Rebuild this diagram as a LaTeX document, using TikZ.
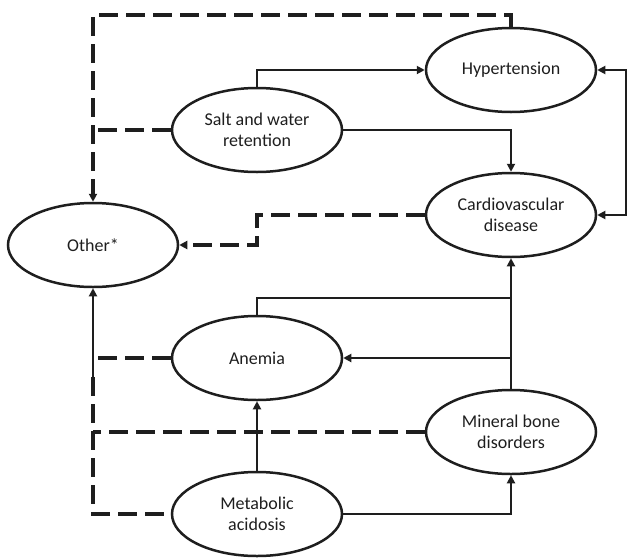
\documentclass[tikz,border=0pt]{standalone}
\usepackage{fontspec}
\setmainfont{Carlito}
\usetikzlibrary{arrows.meta,shapes.geometric}
\definecolor{ink}{HTML}{1E1E1E}
\tikzset{
  box/.style={ellipse,draw=ink,line width=2.5pt,minimum width=170pt,minimum height=84pt,inner sep=0pt,align=center,text=ink,font=\fontsize{18}{21.5}\selectfont},
  solidcon/.style={draw=ink,line width=1.9pt},
  dashcon/.style={draw=ink,line width=3.4pt,dash pattern=on 19pt off 8pt},
  tip/.style={-{Triangle[length=8pt,width=8pt]}},
  tips/.style={{Triangle[length=8pt,width=8pt]}-{Triangle[length=8pt,width=8pt]}}
}
\begin{document}
\begin{tikzpicture}[x=1pt,y=-1pt]
\useasboundingbox (0,0) rectangle (628,557);
\node[box] (hyp) at (511,70) {Hypertension};
\node[box] (salt) at (257,130) {Salt and water\\retention};
\node[box] (cvd) at (511,215) {Cardiovascular\\disease};
\node[box] (other) at (93,245) {Other*};
\node[box] (anem) at (257,358) {Anemia};
\node[box] (mbd) at (511,432) {Mineral bone\\disorders};
\node[box] (meta) at (257,514) {Metabolic\\acidosis};
\coordinate (tl) at (93,15);
\coordinate (cc) at (257,215);
\coordinate (ja) at (511,298);
\coordinate (jm) at (511,358);
\coordinate (jb) at (93,377);
% solid connectors
\draw[solidcon,tip] (salt.north) |- (hyp.west);
\draw[solidcon,tip] (salt.east) -| (cvd.north);
\draw[solidcon,tips] (hyp.east) -- ++(29,0) |- (cvd.east);
\draw[solidcon,tip] (mbd.north) -- (cvd.south);
\draw[solidcon] (anem.north) |- (ja);
\draw[solidcon,tip] (jm) -- (anem.east);
\draw[solidcon,tip] (meta.north) -- (anem.south);
\draw[solidcon,tip] (meta.east) -| (mbd.south);
% dashed connectors
\draw[dashcon,tip] (hyp.north) |- (tl) -- (other.north);
\draw[dashcon] (salt.west) -- (salt.west -| other.north);
\draw[dashcon,tip] (cvd.west) -- (cc) |- (other.east);
\draw[dashcon] (anem.west) -- (anem.west -| other.north);
\draw[dashcon] (mbd.west) -- (mbd.west -| other.north);
\draw[dashcon] (jb) |- (meta.west);
\draw[solidcon,tip] (jb) -- (other.south);
\end{tikzpicture}
\end{document}
